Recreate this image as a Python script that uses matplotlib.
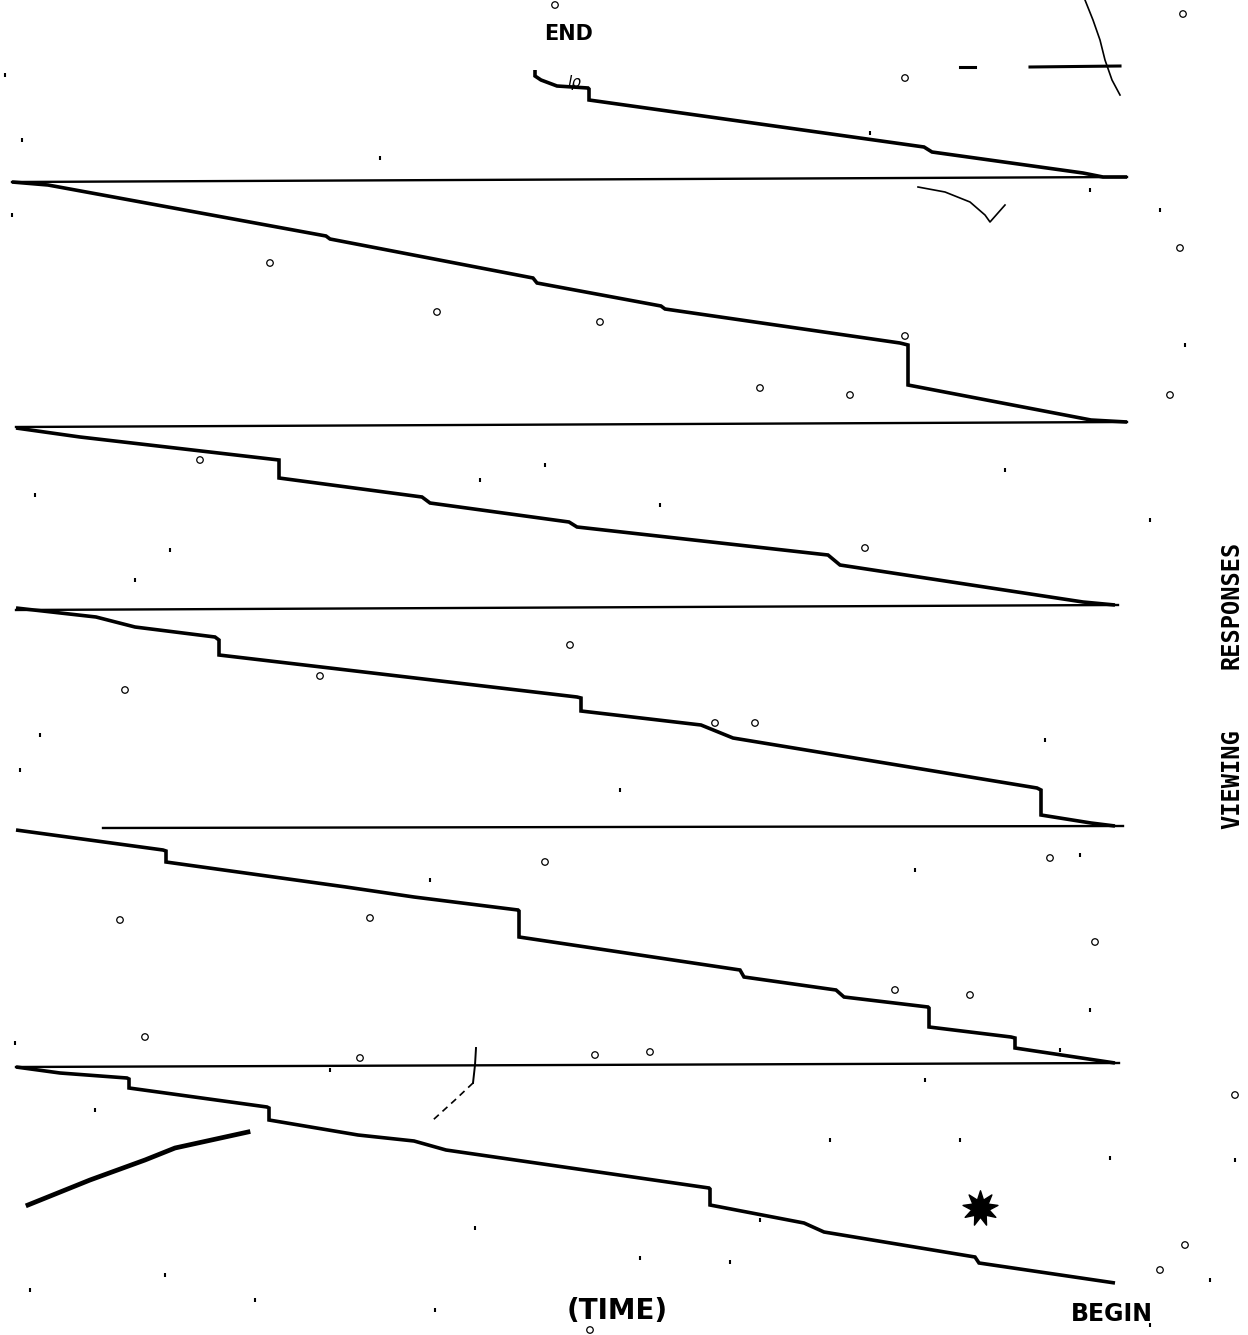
import matplotlib.pyplot as plt
import numpy as np

# cumulative record traces, one per strip (x = time, y = pen position, image units)
strip1_x = [535, 535, 541, 557, 588, 589, 589, 924, 932, 1083, 1103, 1127]
strip1_y = [70, 76, 80, 86, 88, 89, 100, 147, 152, 173, 177, 177]

strip2_x = [12, 48, 326, 330, 533, 537, 661, 665, 900, 908, 908, 1091, 1127]
strip2_y = [182, 185, 236, 239, 278, 283, 306, 309, 343, 345, 385, 420, 422]

strip3_x = [16, 80, 279, 279, 422, 430, 569, 577, 828, 840, 1083, 1115]
strip3_y = [428, 437, 460, 478, 497, 503, 522, 527, 555, 565, 602, 605]

strip4_x = [16, 96, 135, 215, 219, 219, 577, 581, 581, 701, 733, 1037, 1041, 1041, 1091, 1115]
strip4_y = [608, 617, 627, 637, 640, 655, 697, 698, 711, 725, 738, 788, 790, 815, 823, 826]

strip5_x = [16, 163, 166, 166, 346, 414, 518, 519, 519, 740, 744, 836, 844, 928, 929, 929, 1011, 1015, 1015, 1115]
strip5_y = [830, 850, 851, 862, 887, 897, 910, 911, 937, 970, 977, 990, 997, 1007, 1008, 1027, 1037, 1038, 1048, 1063]

strip6_x = [16, 60, 127, 129, 129, 267, 269, 269, 358, 414, 446, 709, 710, 710, 804, 824, 975, 979, 1115]
strip6_y = [1067, 1073, 1078, 1079, 1088, 1107, 1108, 1120, 1135, 1141, 1150, 1188, 1189, 1205, 1223, 1232, 1257, 1263, 1283]

# reset baselines
base_x0 = [12, 16, 16, 103, 16]
base_x1 = [1127, 1127, 1118, 1123, 1119]
base_y0 = [182, 427, 610, 828, 1067]
base_y1 = [177, 422, 605, 826, 1063]

# stray pen marks on the sheet
stray_lower_x = [28, 90, 145, 175, 248]
stray_lower_y = [1205, 1180, 1160, 1148, 1132]
stray_vert_x = [476, 475, 473, 455, 433]
stray_vert_y = [1048, 1065, 1083, 1100, 1120]
curve_tr_x = [1085, 1093, 1100, 1105, 1112, 1120]
curve_tr_y = [0, 20, 40, 60, 80, 95]
curve_mid_x = [918, 945, 970, 985, 990, 1005]
curve_mid_y = [187, 192, 202, 215, 222, 205]
blob_x = [980]
blob_y = [1208]

ring_x = [555, 1183, 905, 1180, 270, 850, 760, 600, 437, 1170, 865, 570, 320, 200, 125,
          715, 755, 545, 1050, 370, 120, 1095, 895, 970, 145, 360, 650, 595, 1235, 1185, 1160, 590, 905]
ring_y = [5, 14, 78, 248, 263, 395, 388, 322, 312, 395, 548, 645, 676, 460, 690,
          723, 723, 862, 858, 918, 920, 942, 990, 995, 1037, 1058, 1052, 1055, 1095, 1245, 1270, 1330, 336]
dot_x = [5, 22, 12, 135, 35, 380, 870, 1090, 1160, 1185, 545, 660, 480, 170, 20,
         1005, 1045, 1150, 40, 430, 620, 915, 1080, 15, 925, 1060, 1090, 95, 475, 830,
         640, 730, 960, 1110, 1235, 1210, 165, 255, 435, 30, 1150, 760, 330]
dot_y = [75, 140, 215, 580, 495, 158, 133, 190, 210, 345, 465, 505, 480, 550, 770,
         470, 740, 520, 735, 880, 790, 870, 855, 1043, 1080, 1050, 1010, 1110, 1228, 1140,
         1258, 1262, 1140, 1158, 1160, 1280, 1275, 1300, 1310, 1290, 1325, 1220, 1070]

fig = plt.figure(figsize=(12.48, 13.35), dpi=100)
ax = fig.add_axes([0, 0, 1, 1])
ax.set_xlim(0, 1248)
ax.set_ylim(1335, 0)
ax.axis("off")

strips = [(strip1_x, strip1_y), (strip2_x, strip2_y), (strip3_x, strip3_y),
          (strip4_x, strip4_y), (strip5_x, strip5_y), (strip6_x, strip6_y)]
for sx, sy in strips:
    ax.plot(sx, sy, color="black", lw=2.6, solid_joinstyle="miter", solid_capstyle="butt")

for i in range(len(base_x0)):
    ax.plot([base_x0[i], base_x1[i]], [base_y0[i], base_y1[i]], color="black", lw=1.7)

ax.plot(stray_lower_x, stray_lower_y, color="black", lw=3.4)
ax.plot(stray_vert_x[:3], stray_vert_y[:3], color="black", lw=1.4)
ax.plot(stray_vert_x[2:], stray_vert_y[2:], color="black", lw=1.2, ls=(0, (4, 3)))
ax.plot(curve_tr_x, curve_tr_y, color="black", lw=1.2)
ax.plot(curve_mid_x, curve_mid_y, color="black", lw=1.2)
ax.plot([1030, 1120], [67, 66], color="black", lw=2.2)
ax.plot([960, 975], [67, 67], color="black", lw=2.2)
ax.scatter(blob_x, blob_y, s=650, marker=(9, 1, 0), color="black")

ax.scatter(ring_x, ring_y, s=22, facecolors="none", edgecolors="black", linewidths=0.9)
ax.scatter(dot_x, dot_y, s=5, color="black", marker="|")
ax.text(574, 82, "lρ", fontsize=11, ha="center", va="center", style="italic", color="black")

cond = dict(family=["DejaVu Sans"], fontweight="bold", color="black")
ax.text(569, 34, "END", fontsize=15, ha="center", va="center", **cond)
ax.text(617, 1311, "(TIME)", fontsize=20, ha="center", va="center", **cond)
ax.text(1112, 1314, "BEGIN", fontsize=17, ha="center", va="center", **cond)

mono = dict(family=["DejaVu Sans Mono"], fontweight="bold", color="black", rotation=90)
ax.text(1232, 605, "RESPONSES", fontsize=17, ha="center", va="center", **mono)
ax.text(1232, 779, "VIEWING", fontsize=17, ha="center", va="center", **mono)

fig.savefig("out.png", dpi=100, facecolor="white")
